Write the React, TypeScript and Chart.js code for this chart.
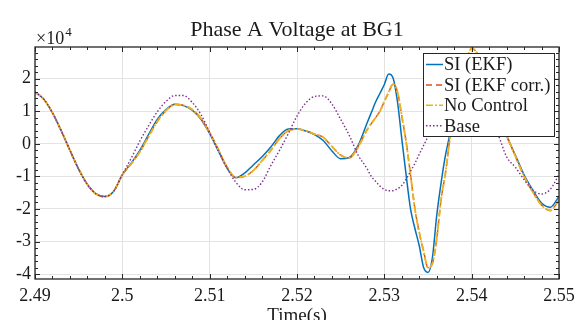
import { useEffect, useRef } from 'react';
import { Chart, registerables } from 'chart.js';

Chart.register(...registerables);

// ---- Data (voltage in units of 10^4) ----
const time = [
  2.490, 2.491, 2.492, 2.493, 2.494, 2.495, 2.496, 2.497, 2.498, 2.499,
  2.500, 2.501, 2.502, 2.503, 2.504, 2.505, 2.506, 2.507, 2.508, 2.509,
  2.510, 2.511, 2.512, 2.513, 2.514, 2.515, 2.516, 2.517, 2.518, 2.519,
  2.520, 2.521, 2.522, 2.523, 2.524, 2.525, 2.526, 2.527, 2.528, 2.5285,
  2.529, 2.5295, 2.530, 2.5305, 2.531, 2.5315, 2.532, 2.5325, 2.533, 2.5335,
  2.534, 2.5345, 2.535, 2.5355, 2.536, 2.5365, 2.537, 2.5375, 2.538, 2.539,
  2.540, 2.541, 2.542, 2.543, 2.544, 2.545, 2.546, 2.547, 2.548, 2.549, 2.550,
];

const siEkf = [
  1.59, 1.37, 0.95, 0.40, -0.20, -0.78, -1.25, -1.54, -1.62, -1.46,
  -0.95, -0.60, -0.20, 0.28, 0.75, 1.05, 1.21, 1.17, 1.03, 0.75,
  0.31, -0.22, -0.75, -1.04, -0.90, -0.65, -0.40, -0.10, 0.25, 0.45,
  0.46, 0.39, 0.28, 0.10, -0.22, -0.46, -0.42, -0.05, 0.62, 0.95,
  1.28, 1.55, 1.82, 2.14, 2.02, 1.30, 0.15, -0.97, -2.00, -2.60,
  -3.13, -3.80, -3.95, -3.50, -2.20, -1.20, -0.35, 0.30, 1.20, 2.30,
  2.70, 2.55, 1.90, 0.90, 0.25, -0.35, -0.95, -1.42, -1.82, -1.95, -1.62,
];

const siEkfCorr = [
  1.59, 1.37, 0.95, 0.40, -0.20, -0.78, -1.25, -1.54, -1.62, -1.46,
  -0.95, -0.62, -0.25, 0.22, 0.68, 1.02, 1.20, 1.18, 1.05, 0.78,
  0.34, -0.18, -0.72, -1.03, -1.00, -0.82, -0.52, -0.20, 0.16, 0.40,
  0.45, 0.40, 0.30, 0.20, -0.08, -0.35, -0.43, -0.10, 0.42, 0.62,
  0.80, 1.00, 1.30, 1.58, 1.83, 1.60, 0.85, 0.05, -0.95, -2.00,
  -2.72, -3.30, -3.80, -3.68, -2.90, -1.70, -0.90, 0.15, 1.00, 2.10,
  2.93, 2.60, 1.90, 0.95, 0.25, -0.38, -1.00, -1.48, -1.88, -2.05, -1.72,
];

const noControl = [
  1.59, 1.37, 0.95, 0.40, -0.20, -0.78, -1.25, -1.54, -1.62, -1.46,
  -0.95, -0.62, -0.25, 0.22, 0.68, 1.02, 1.20, 1.18, 1.05, 0.78,
  0.34, -0.18, -0.72, -1.03, -1.00, -0.82, -0.52, -0.20, 0.16, 0.40,
  0.45, 0.40, 0.30, 0.20, -0.08, -0.35, -0.43, -0.10, 0.42, 0.62,
  0.80, 1.00, 1.30, 1.58, 1.83, 1.60, 0.85, 0.05, -0.95, -2.00,
  -2.72, -3.30, -3.80, -3.68, -2.90, -1.70, -0.90, 0.15, 1.00, 2.10,
  2.93, 2.60, 1.90, 0.95, 0.25, -0.38, -1.00, -1.48, -1.88, -2.05, -1.72,
];

const base = [
  1.59, 1.37, 0.95, 0.40, -0.20, -0.78, -1.25, -1.54, -1.62, -1.46,
  -0.95, -0.45, 0.08, 0.55, 0.98, 1.30, 1.48, 1.48, 1.27, 0.90,
  0.35, -0.22, -0.75, -1.18, -1.41, -1.40, -1.18, -0.67, -0.20, 0.31,
  0.85, 1.25, 1.45, 1.47, 1.22, 0.75, 0.25, -0.35, -0.75, -1.00,
  -1.15, -1.30, -1.40, -1.44, -1.44, -1.38, -1.28, -1.08, -0.85, -0.60,
  -0.32, -0.05, 0.22, 0.50, 0.75, 0.98, 1.18, 1.33, 1.43, 1.50,
  1.45, 1.20, 0.80, 0.30, -0.40, -0.72, -1.10, -1.42, -1.54, -1.40, -0.95,
];

const seriesLabels = ['SI (EKF)', 'SI (EKF corr.)', 'No Control', 'Base'];
const xTicks = [2.49, 2.5, 2.51, 2.52, 2.53, 2.54, 2.55];
const xTickLabels = ['2.49', '2.5', '2.51', '2.52', '2.53', '2.54', '2.55'];
const yTicks = [-4, -3, -2, -1, 0, 1, 2];
const yTickLabels = ['-4', '-3', '-2', '-1', '0', '1', '2'];
const TITLE = 'Phase A Voltage at BG1';
const X_LABEL = 'Time(s)';
const EXP_BASE = '\u00d710';
const EXP_POWER = '4';

const X_MIN = 2.49;
const X_MAX = 2.55;
const Y_MIN = -4.15;
const Y_MAX = 2.97;

// ---- Styles ----
const FONT = '"Liberation Serif", "Times New Roman", serif';
const AXIS = '#262626';
const GRID = '#e3e3e3';
const COLORS = ['#0072BD', '#D95319', '#EDB120', '#7E2F8E'];
const WIDTHS = [1.5, 1.4, 1.9, 1.4];
const DASHES: number[][] = [[], [6, 4], [7, 2, 2, 2], [1.5, 2]];

const decorPlugin = {
  id: 'decor',
  afterDraw(chart: any) {
    const { ctx, chartArea: a, scales } = chart;
    const xs = scales.x;
    const ys = scales.y;
    ctx.save();

    // axes box
    ctx.strokeStyle = AXIS;
    ctx.lineWidth = 1.3;
    ctx.setLineDash([]);
    ctx.strokeRect(a.left, a.top, a.right - a.left, a.bottom - a.top);

    // inward ticks (major + minor) on all four sides
    ctx.lineWidth = 1;
    ctx.beginPath();
    for (let k = 0; k <= 30; k++) {
      const v = X_MIN + k * 0.002;
      const px = Math.round(xs.getPixelForValue(v)) + 0.5;
      const len = k % 5 === 0 ? 5 : 3;
      ctx.moveTo(px, a.bottom);
      ctx.lineTo(px, a.bottom - len);
      ctx.moveTo(px, a.top);
      ctx.lineTo(px, a.top + len);
    }
    for (let k = -25; k <= 20; k++) {
      const v = k * 0.2;
      if (v < Y_MIN - 1e-9 || v > Y_MAX + 1e-9) continue;
      const py = Math.round(ys.getPixelForValue(v)) + 0.5;
      const len = k % 5 === 0 ? 5 : 3;
      ctx.moveTo(a.left, py);
      ctx.lineTo(a.left + len, py);
      ctx.moveTo(a.right, py);
      ctx.lineTo(a.right - len, py);
    }
    ctx.stroke();

    const cx = (a.left + a.right) / 2;
    ctx.fillStyle = '#1a1a1a';

    // title
    ctx.font = `22px ${FONT}`;
    ctx.textAlign = 'center';
    ctx.textBaseline = 'alphabetic';
    ctx.fillText(TITLE, cx, 36);

    // exponent label
    ctx.textAlign = 'left';
    ctx.font = `18px ${FONT}`;
    ctx.fillText(EXP_BASE, a.left + 1, 44);
    const w = ctx.measureText(EXP_BASE).width;
    ctx.font = `13px ${FONT}`;
    ctx.fillText(EXP_POWER, a.left + 1 + w + 1, 36);

    // x label
    ctx.font = `19px ${FONT}`;
    ctx.textAlign = 'center';
    ctx.fillText(X_LABEL, cx, 321);

    // legend
    const lx = 423, ly = 53, lw = 131, lh = 83;
    ctx.fillStyle = '#ffffff';
    ctx.fillRect(lx, ly, lw, lh);
    ctx.strokeStyle = AXIS;
    ctx.lineWidth = 1;
    ctx.strokeRect(lx + 0.5, ly + 0.5, lw, lh);
    ctx.font = `18.5px ${FONT}`;
    ctx.textAlign = 'left';
    ctx.textBaseline = 'middle';
    chart.data.datasets.forEach((ds: any, i: number) => {
      const ry = ly + 11.5 + i * 20.4;
      ctx.strokeStyle = ds.borderColor;
      ctx.lineWidth = 1.5;
      ctx.setLineDash(ds.borderDash || []);
      ctx.beginPath();
      ctx.moveTo(lx + 3, ry);
      ctx.lineTo(lx + 20, ry);
      ctx.stroke();
      ctx.setLineDash([]);
      ctx.fillStyle = '#1a1a1a';
      ctx.fillText(ds.label, lx + 21, ry + 1);
    });

    ctx.restore();
  },
};

export default function App() {
  const ref = useRef<HTMLCanvasElement | null>(null);

  useEffect(() => {
    if (!ref.current) return;
    const series = [siEkf, siEkfCorr, noControl, base];
    const chart = new Chart(ref.current, {
      type: 'line',
      data: {
        datasets: series.map((vals, i) => ({
          label: seriesLabels[i],
          data: time.map((t, j) => ({ x: t, y: vals[j] })),
          borderColor: COLORS[i],
          backgroundColor: COLORS[i],
          borderWidth: WIDTHS[i],
          borderDash: DASHES[i],
          pointRadius: 0,
          cubicInterpolationMode: 'monotone' as const,
          fill: false,
          order: 4 - i,
        })),
      },
      options: {
        responsive: false,
        animation: false,
        devicePixelRatio: 1,
        layout: { padding: { top: 47, right: 29, left: 0, bottom: 0 } },
        plugins: {
          legend: { display: false },
          title: { display: false },
          tooltip: { enabled: false },
        },
        scales: {
          x: {
            type: 'linear',
            min: X_MIN,
            max: X_MAX,
            afterBuildTicks: (scale: any) => {
              scale.ticks = xTicks.map((v) => ({ value: v }));
            },
            afterFit: (scale: any) => {
              scale.height = 41;
            },
            ticks: {
              autoSkip: false,
              maxRotation: 0,
              padding: 6,
              color: '#1a1a1a',
              font: { family: FONT, size: 18 },
              callback: (_v: any, idx: number) => xTickLabels[idx],
            },
            grid: { color: GRID, lineWidth: 1, drawTicks: false },
            border: { display: false },
          },
          y: {
            type: 'linear',
            min: Y_MIN,
            max: Y_MAX,
            afterBuildTicks: (scale: any) => {
              scale.ticks = yTicks.map((v) => ({ value: v }));
            },
            afterFit: (scale: any) => {
              scale.width = 35;
            },
            ticks: {
              autoSkip: false,
              padding: 4,
              color: '#1a1a1a',
              font: { family: FONT, size: 18 },
              callback: (_v: any, idx: number) => yTickLabels[idx],
            },
            grid: { color: GRID, lineWidth: 1, drawTicks: false },
            border: { display: false },
          },
        },
      },
      plugins: [decorPlugin],
    });
    return () => chart.destroy();
  }, []);

  return (
    <div style={{ position: 'absolute', left: 0, top: 0, width: 588, height: 320, background: '#fff' }}>
      <canvas ref={ref} width={588} height={320} style={{ display: 'block' }} />
    </div>
  );
}
